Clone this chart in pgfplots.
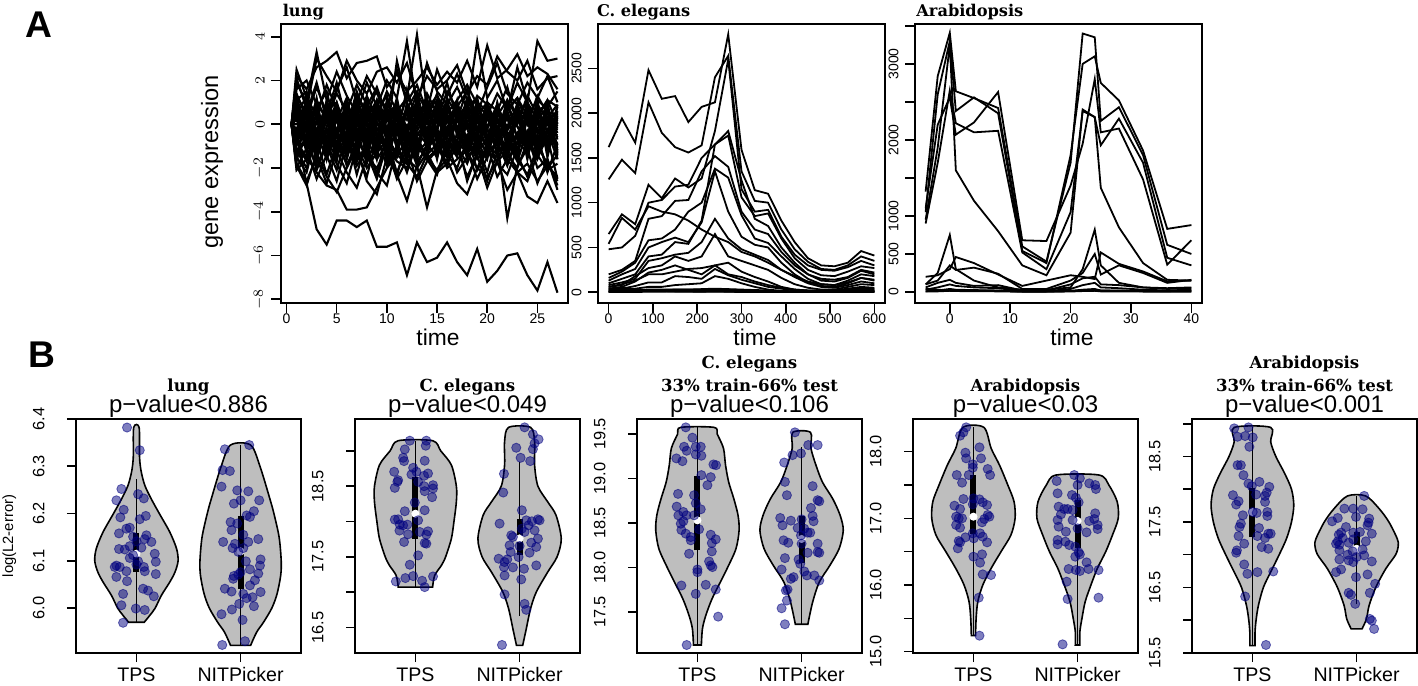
\documentclass[border=0pt]{standalone}
\usepackage{fontspec}
\setmainfont{Liberation Sans}
\newfontfamily\tfont{DejaVu Serif}
\usepackage{pgfplots}
\usepackage{pgfplotstable}
\pgfplotsset{compat=1.18}
\definecolor{vgray}{HTML}{BEBEBE}
\definecolor{navy}{HTML}{000080}

\pgfplotsset{
  rbase/.style={scale only axis, anchor=south west, axis line style={line width=0.9pt},
    tick align=outside, xtick pos=left, ytick pos=left, tick style={black, line width=0.8pt}},
  Aax/.style={rbase, width=143.5pt, height=139.5pt, major tick length=5pt,
    xticklabel style={font=\fontsize{7}{8}\selectfont, inner ysep=0pt},
    yticklabel style={font=\fontsize{7}{8}\selectfont, rotate=90, anchor=south, inner ysep=3pt}},
  Bax/.style={rbase, width=112.5pt, height=117pt, major tick length=4.5pt,
    xmin=0.42, xmax=2.58, xtick={1,2}, xticklabels={TPS,NITPicker},
    xticklabel style={font=\fontsize{9.8}{11}\selectfont, inner ysep=0pt, yshift=-2.5pt},
    yticklabel style={font=\fontsize{8.2}{9}\selectfont, rotate=90, anchor=south, inner ysep=11pt}},
  aline/.style={black, line width=0.9pt, mark=none},
  vio/.style={fill=vgray, draw=black, line width=0.8pt, mark=none, smooth, tension=0.5},
  whisk/.style={black, line width=0.8pt, mark=none},
  iqr/.style={black, line width=3pt, mark=none},
  med/.style={only marks, mark=*, mark size=1.8pt, mark options={draw=white, fill=white}},
  pts/.style={only marks, mark=*, mark size=2.3pt,
    mark options={draw=navy, fill=navy, fill opacity=0.5, draw opacity=0.55, line width=0.4pt}},
}

% ---------- panel A: expression profiles ----------
% lung: time, genes of the band, the two low ones (o1 o2), more genes of the band
\pgfplotstableread{
t g1 g2 g3 g4 g5 g6 g7 g8 g9 g10 g11 g12 g13 g14 g15 g16 g17 g18 g19 g20 g21 g22 g23 g24 o1 o2 h1 h2 h3 h4 h5 h6 h7 h8 h9 h10 h11 h12 h13 h14 h15 h16
0.5 0 0 0 0 0 0 0 0 0 0 0 0 0 0 0 0 0 0 0 0 0 0 0 0 0 0 0 0 0 0 0 0 0 0 0 0 0 0 0 0 0 0
1 2.5 -2.1 0.8 -1.2 1.9 -1.8 0.4 -0.9 1.3 -1.5 2.2 -2.0 1.0 -0.5 1.6 -1.3 0.6 -1.9 1.1 -0.8 2.1 -1.6 -0.3 1.4 -0.5 -0.8 1.1 -0.9 0.5 -1.4 0.2 -0.3 0.9 -1.1 -0.6 0.7 -1.7 0.3 -0.2 1.2 -0.8 0.0
2 1.2 -1.6 -0.4 -2.0 1.0 -2.6 1.3 0.2 0.5 -2.2 1.6 -1.1 -0.2 0.9 2.0 -0.6 -1.0 -2.8 1.5 -1.7 0.7 -0.5 1.1 0.3 -2.7 -1.5 -0.4 0.6 -1.3 0.1 -0.9 0.8 -0.2 -1.6 0.4 -0.7 0.9 -1.2 0.5 -0.1 -1.0 0.3
3 0.4 -0.7 1.1 -0.3 3.3 -1.5 -0.9 -1.6 1.9 -0.4 2.6 -2.5 0.7 -1.2 0.9 -2.0 0.5 -1.3 -0.4 0.2 3.0 -2.1 -0.6 1.7 -4.8 -2.2 0.7 -1.5 0.2 -0.8 1.0 -1.1 0.4 -0.3 -1.4 1.2 -0.6 0.1 -1.8 0.6 -0.2 -0.9
4 1.8 -2.3 0.2 -1.0 1.1 -2.7 0.6 -0.2 0.2 -1.6 2.9 -1.4 1.5 0.4 0.3 -0.8 -1.3 -2.4 1.0 -1.1 2.2 -0.9 0.8 0.5 -5.5 -2.8 -0.9 0.3 -0.6 1.1 -1.5 0.2 -1.0 0.8 -0.1 -1.3 0.5 -0.7 0.9 -1.6 0.4 -0.4
5 0.7 -0.9 -0.6 -2.1 2.4 -1.2 1.0 -1.0 1.4 -0.3 3.3 -2.6 -0.4 -0.6 1.6 -1.5 0.9 -3.1 0.2 0.6 1.5 -1.8 -1.2 1.9 -4.4 -3.0 0.2 -1.2 0.9 -0.4 0.5 -1.7 0.7 -0.9 1.0 -0.2 -1.1 0.6 -0.5 0.3 -1.4 0.8
6 -0.2 -1.8 0.9 -0.5 1.3 -2.2 -0.3 0.5 0.6 -1.9 2.1 -0.8 0.9 -1.4 2.6 -0.4 -0.9 -2.0 1.2 -1.5 2.9 -2.7 0.3 0.1 -4.4 -3.9 -1.3 0.8 -0.2 -1.0 0.4 0.9 -1.5 0.1 -0.7 0.6 -0.3 -1.6 1.1 -0.8 0.2 -1.2
7 1.5 -1.2 0.1 -1.7 0.5 -2.9 1.2 -0.7 1.8 -0.8 2.8 -1.9 -0.1 0.3 1.0 -2.3 0.4 -1.1 -0.6 -0.2 2.0 -1.0 -0.8 1.3 -4.7 -3.9 0.5 -0.5 -1.4 0.7 -0.9 -0.2 1.0 -1.3 0.3 -1.0 0.8 0.0 -0.6 1.2 -1.7 0.4
8 0.3 -2.4 -0.8 -0.9 1.9 -1.5 0.7 -1.5 0.9 -1.3 2.9 -1.2 1.3 -0.9 2.2 -0.7 -0.5 -2.6 0.8 -1.8 1.4 -2.0 0.6 0.4 -4.4 -3.8 -0.6 1.0 0.3 -1.6 0.8 -1.1 -0.4 0.6 -1.2 0.2 -0.8 1.1 -1.5 -0.1 0.7 -0.3
9 1.1 -0.6 0.6 -2.3 0.8 -2.0 -0.6 0.1 0.3 -2.5 3.1 -2.2 0.2 -0.3 1.4 -1.6 1.0 -3.2 1.7 -0.5 2.4 -1.3 -1.0 1.6 -5.6 -2.9 1.0 -1.4 -0.5 0.4 -1.2 0.7 0.2 -0.9 0.9 -1.6 0.1 -0.4 0.6 -1.1 -0.2 1.1
10 -0.5 -1.9 1.3 -0.4 2.0 -1.1 0.9 -1.1 1.5 -0.9 1.7 -2.8 0.8 0.6 0.7 -0.9 -0.8 -1.5 0.4 -1.2 2.6 -0.7 0.2 -0.3 -5.6 -2.0 -0.2 0.4 -1.0 -0.7 1.1 -1.5 0.6 0.3 -1.8 0.8 -0.5 -1.2 0.2 0.9 -0.9 -0.6
11 2.9 -1.0 -0.3 -1.5 1.2 -2.5 0.3 -0.4 0.6 -1.7 2.3 -1.0 -0.5 -1.1 2.5 -2.4 0.7 -2.3 -0.2 0.3 1.9 -2.2 1.0 0.9 -5.4 -1.4 0.8 -1.0 0.7 -1.3 -0.1 0.5 -1.1 1.0 0.0 -0.8 1.2 -1.5 -0.3 0.4 -1.4 0.6
12 0.9 -2.2 0.7 -0.6 3.8 -1.6 -1.0 0.7 1.2 -2.0 1.5 -1.8 1.6 -0.2 1.0 -0.5 -0.2 -3.5 1.3 -1.6 2.8 -1.1 -0.4 0.2 -6.9 -1.8 -1.1 0.6 -0.3 0.9 -1.6 -0.4 0.8 -1.4 0.5 -0.2 -1.0 0.7 -1.7 -0.6 1.0 -0.1
13 -0.2 -0.8 1.5 -1.9 0.8 -2.0 0.6 -1.3 4.1 -0.6 2.0 -2.4 0.1 0.8 1.8 -1.7 1.1 -1.9 0.5 -0.4 1.2 -2.6 0.4 1.4 -5.4 -1.0 0.3 -1.7 1.0 -0.5 0.6 -1.2 -0.6 0.2 -1.1 1.1 -0.3 -0.9 0.8 -1.3 0.1 -1.5
14 1.4 -1.5 -0.5 -0.9 2.8 -1.3 0.2 -0.8 0.7 -1.6 2.6 -1.4 0.9 -1.0 0.6 -1.1 -0.6 -3.8 1.0 -0.9 2.2 -1.7 -0.2 0.6 -6.3 -1.6 -0.8 0.9 -1.2 0.2 -0.4 1.0 -1.5 -0.7 0.7 -1.1 0.4 0.1 -0.9 1.2 -0.6 0.5
15 0.5 -2.1 1.0 -0.4 1.5 -2.2 1.4 -0.2 1.3 -2.3 1.8 -0.9 -0.3 0.2 2.5 -0.6 0.3 -2.1 0.2 -1.5 1.6 -1.2 0.7 1.1 -6.1 -1.1 0.6 -0.3 0.4 -1.5 1.0 -0.9 0.3 -1.0 -0.4 0.5 -1.6 0.9 -0.1 -0.7 1.1 -1.3
16 1.9 -1.2 0.4 -1.4 0.9 -1.8 -0.4 -1.2 0.5 -0.8 2.4 -2.0 1.2 -0.6 1.3 -1.9 0.8 -1.6 1.5 -0.3 2.0 -0.8 -0.6 0.3 -5.4 -1.5 -0.5 -1.1 -0.8 0.8 -1.3 0.4 -0.2 1.1 -1.5 -0.3 0.7 -0.6 1.0 -1.0 -0.4 0.2
17 0.2 -0.7 -0.2 -2.0 1.7 -1.0 0.9 0.3 1.1 -1.4 1.9 -1.6 0.4 -1.3 2.3 -0.4 -0.3 -2.7 0.7 -1.0 2.7 -2.2 0.2 0.8 -6.3 -0.8 1.1 0.2 -1.5 -0.2 0.3 -1.4 1.0 -0.5 0.6 -1.2 -0.1 0.8 -1.3 0.5 -0.8 -1.0
18 1.6 -2.6 0.8 -0.7 0.7 -2.4 0.1 -0.9 1.8 -0.5 2.9 -1.2 -0.2 0.4 1.1 -1.3 1.2 -3.2 0.3 -1.8 1.4 -1.5 -0.8 1.5 -6.9 -1.3 -1.0 -0.6 0.6 -1.1 0.9 0.1 -1.3 0.7 -0.9 0.4 -1.5 -0.2 0.5 -1.6 1.0 0.0
19 -0.4 -1.3 1.2 -1.6 3.8 -1.4 0.5 -0.5 0.9 -2.1 1.7 -2.5 1.0 -0.8 0.5 -0.9 0.2 -2.0 1.3 -0.6 2.2 -1.0 0.5 0.4 -5.7 -2.0 0.4 -1.5 -0.1 0.5 -1.0 -0.8 0.8 -1.2 1.1 -0.6 0.2 -1.4 -0.4 0.9 -0.3 -1.1
20 1.0 -0.6 -0.6 -1.1 1.2 -2.9 -0.2 -1.4 0.4 -1.2 3.6 -1.5 0.6 -0.2 1.7 -2.2 -0.7 -2.4 0.9 -1.3 1.8 -2.6 -0.1 1.0 -7.2 -1.0 -0.7 0.8 -1.1 -0.9 0.6 -1.6 -0.3 0.4 -0.8 1.0 -1.2 0.3 -1.0 -0.2 0.7 -1.5
21 0.6 -1.8 0.5 -0.3 2.0 -1.7 0.8 -0.1 1.4 -1.7 2.1 -0.8 -0.5 0.7 2.8 -0.5 0.6 -1.7 -0.3 -0.8 3.1 -1.3 0.9 -0.2 -6.7 -2.4 0.9 -0.8 0.2 -1.4 -0.5 0.7 -1.0 -0.2 0.3 -1.5 0.9 -0.7 0.4 -1.2 -0.6 1.0
22 1.7 -2.3 -0.1 -1.8 0.6 -1.2 -0.7 -0.8 0.7 -0.6 2.5 -4.3 1.1 -1.1 1.4 -1.4 -0.2 -3.0 0.6 -1.9 2.4 -0.9 -0.5 0.7 -6.0 -1.6 -0.3 0.5 -1.6 0.6 -1.2 -0.5 0.9 -1.4 -0.6 0.8 -0.4 -1.0 1.1 -0.9 0.3 -0.7
23 0.0 -1.1 0.9 -0.8 2.6 -2.2 0.4 -1.7 1.9 -1.4 3.2 -1.9 0.3 -0.4 0.9 -2.0 0.4 -2.2 1.2 -0.4 2.0 -1.6 0.1 1.2 -5.9 -2.2 0.7 -1.2 0.4 -0.6 0.8 -1.3 -0.1 1.0 -1.6 -0.1 -0.9 0.6 -0.7 0.2 -1.3 0.5
24 1.3 -0.5 -0.7 -1.3 1.0 -2.6 1.0 -0.3 1.0 -2.4 2.2 -1.1 -0.6 0.2 1.9 -0.8 -0.9 -3.3 0.4 -1.2 2.9 -2.3 0.6 0.0 -6.9 -1.8 -1.2 0.3 -0.7 1.0 -1.5 0.2 -0.8 -0.6 0.9 -1.0 0.5 -1.6 0.3 -0.5 0.8 -0.9
25 0.4 -2.0 0.3 -0.5 3.8 -1.4 -0.4 -1.1 0.2 -1.0 2.6 -2.7 0.9 -1.5 1.2 -1.6 0.9 -3.6 1.1 -0.7 1.6 -1.2 -0.7 1.3 -7.6 -2.6 0.2 -0.9 0.8 -1.2 0.1 -1.0 1.1 -1.5 -0.3 0.6 -1.3 0.4 -1.1 1.0 -0.4 -0.2
26 1.1 -1.6 1.1 -2.2 2.9 -2.1 0.6 0.2 0.8 -1.8 2.3 -1.6 0.2 -0.6 2.2 -0.3 -0.4 -2.6 0.7 -2.0 2.1 -0.6 0.3 0.5 -6.3 -1.9 -0.6 1.0 -1.0 -0.3 -0.9 0.6 -1.4 0.2 -1.1 0.9 -0.2 -1.2 0.7 -1.5 0.0 0.6
27 0.8 -2.8 0.0 -0.9 3.0 -1.8 -0.2 -0.6 1.5 -2.6 1.6 -3.0 0.6 -0.2 1.0 -1.2 0.2 -3.6 -0.1 -1.4 2.2 -2.5 0.9 -0.4 -7.7 -2.4 0.5 -1.3 0.1 -1.6 0.6 -0.7 0.3 -1.1 0.8 -1.4 -0.5 0.9 -1.6 0.4 -0.9 -1.2
}\lung

\pgfplotstableread{
t c1 c2 c3 c4 c5 c6 c7 c8 c9 c10 c11 c12 c13 c14 c15 c16 c17 c18 c19 c20
0 1620 1260 650 540 480 200 160 130 100 80 60 40 60 30 20 10 5 2 40 12
30 1940 1480 870 830 500 250 230 200 150 110 80 60 90 40 30 15 8 3 50 20
60 1670 1330 760 700 630 350 330 260 200 150 180 120 130 70 40 20 10 4 30 25
90 2480 2120 1200 960 1000 820 580 500 400 350 270 220 200 110 60 25 12 5 20 30
120 2160 1780 1050 900 1030 850 600 560 420 380 300 250 200 110 60 25 12 5 15 30
150 2190 1620 1270 870 1180 1020 700 610 560 420 400 300 230 180 80 30 15 6 10 30
180 1900 1560 1170 800 1200 1030 900 560 540 440 350 250 260 170 90 30 15 6 8 30
210 2070 1640 1270 700 1500 1350 1000 780 800 560 400 200 270 150 100 35 18 7 6 30
240 2120 2400 1800 620 1650 1520 1380 1350 1650 820 650 300 300 260 180 40 20 8 5 30
270 2880 2640 2600 560 1750 1400 1280 900 1800 600 400 200 330 190 150 35 18 7 5 30
300 1590 1350 1150 450 1060 900 860 620 1250 480 350 170 230 140 100 30 15 6 4 25
330 1140 1020 900 400 850 700 600 530 820 420 300 120 170 100 60 25 12 5 4 20
360 1100 1000 920 330 880 650 550 500 740 360 250 80 120 60 30 20 10 4 3 15
390 800 700 620 250 600 450 400 330 500 250 160 50 60 40 15 15 8 3 3 10
420 560 480 420 180 380 300 260 200 330 170 90 30 30 20 10 10 5 2 2 8
450 380 340 300 120 250 200 150 110 200 100 50 20 20 15 10 8 4 2 2 6
480 300 260 250 90 190 150 90 70 130 60 30 20 20 10 10 8 4 2 2 6
510 290 250 240 80 180 140 80 60 120 50 30 20 20 10 10 8 4 2 2 8
540 330 300 280 110 230 170 130 100 160 80 60 40 30 20 20 12 6 3 3 10
570 460 400 350 160 290 250 200 160 240 120 90 60 50 40 30 20 10 5 4 15
600 410 350 300 140 270 220 180 130 200 100 80 50 40 30 20 15 8 4 3 12
}\celeg

\pgfplotstableread{
t a1 a2 a3 a4 a5 a6 a7 a8 a9 a10 a11 a12 a13
-4 1320 1050 900 1100 950 100 200 100 60 30 10 5 40
-2 2840 2600 1700 2200 1900 250 220 150 120 60 20 8 30
0 3410 3300 2650 2560 3250 750 300 350 160 100 40 15 20
1 2640 2380 2220 2070 1600 300 460 290 120 80 30 12 20
4 2550 2560 2100 2230 1200 150 380 320 80 60 25 10 20
8 2420 2350 2120 2630 800 60 230 240 90 50 20 8 15
12 600 540 520 680 350 30 80 40 20 10 5 2 10
16 400 380 300 670 220 30 150 40 20 10 5 2 10
20 1700 1800 1050 1400 780 60 220 150 100 40 15 6 15
22 3400 3000 2380 1950 2400 300 200 250 180 90 30 12 20
24 3350 3100 2300 2800 2300 820 170 500 200 120 40 15 25
25 2250 2750 1930 2100 1370 350 520 230 100 60 20 8 20
28 2430 2520 2280 2150 850 120 370 350 90 50 20 8 15
32 1800 1860 1700 1480 380 60 270 250 60 30 10 5 15
36 620 830 450 360 160 50 140 120 40 20 10 4 10
40 500 880 350 680 150 60 150 160 50 30 10 5 20
}\arab

% ---------- panel B: violin outlines, offset w from the centre, right side up then left side down ----------
\pgfplotstableread{
w y
0.075 5.970
0.13 5.985
0.18 6.000
0.24 6.027
0.32 6.055
0.37 6.076
0.40 6.100
0.385 6.126
0.32 6.161
0.22 6.200
0.14 6.232
0.08 6.260
0.045 6.290
0.03 6.320
0.026 6.382
-0.026 6.382
-0.03 6.320
-0.045 6.290
-0.08 6.260
-0.14 6.232
-0.22 6.200
-0.32 6.161
-0.385 6.126
-0.40 6.100
-0.37 6.076
-0.32 6.055
-0.24 6.027
-0.18 6.000
-0.13 5.985
-0.075 5.970
}\vAt
\pgfplotstableread{
w y
0.096 5.921
0.154 5.949
0.22 5.970
0.30 6.000
0.35 6.030
0.385 6.069
0.39 6.100
0.37 6.150
0.32 6.200
0.28 6.232
0.186 6.300
0.096 6.345
-0.096 6.345
-0.186 6.300
-0.28 6.232
-0.32 6.200
-0.37 6.150
-0.39 6.100
-0.385 6.069
-0.35 6.030
-0.30 6.000
-0.22 5.970
-0.154 5.949
-0.096 5.921
}\vAn
\pgfplotstableread{
w y
0.165 17.071
0.185 17.236
0.25 17.380
0.29 17.500
0.345 17.757
0.37 18.000
0.393 18.278
0.393 18.500
0.345 18.800
0.243 19.000
0.165 19.144
-0.165 19.144
-0.243 19.000
-0.345 18.800
-0.393 18.500
-0.393 18.278
-0.37 18.000
-0.345 17.757
-0.29 17.500
-0.25 17.380
-0.185 17.236
-0.165 17.071
}\vBt
\pgfplotstableread{
w y
0.03 16.247
0.064 16.479
0.105 16.763
0.16 17.000
0.27 17.284
0.36 17.500
0.40 17.757
0.35 18.088
0.27 18.278
0.176 18.500
0.144 18.800
0.144 19.130
0.105 19.333
-0.105 19.333
-0.144 19.130
-0.144 18.800
-0.176 18.500
-0.27 18.278
-0.35 18.088
-0.40 17.757
-0.36 17.500
-0.27 17.284
-0.16 17.000
-0.105 16.763
-0.064 16.479
-0.03 16.247
}\vBn
\pgfplotstableread{
w y
0.038 17.128
0.048 17.310
0.08 17.459
0.14 17.647
0.22 17.835
0.29 18.000
0.37 18.210
0.40 18.417
0.39 18.586
0.35 18.770
0.30 18.960
0.27 19.150
0.25 19.340
0.19 19.500
0.16 19.575
-0.16 19.575
-0.19 19.500
-0.25 19.340
-0.27 19.150
-0.30 18.960
-0.35 18.770
-0.39 18.586
-0.40 18.417
-0.37 18.210
-0.29 18.000
-0.22 17.835
-0.14 17.647
-0.08 17.459
-0.048 17.310
-0.038 17.128
}\vCt
\pgfplotstableread{
w y
0.06 17.361
0.106 17.610
0.17 17.835
0.27 18.020
0.36 18.210
0.40 18.417
0.37 18.586
0.30 18.770
0.20 18.960
0.138 19.150
0.09 19.340
0.085 19.519
-0.085 19.519
-0.09 19.340
-0.138 19.150
-0.20 18.960
-0.30 18.770
-0.37 18.586
-0.40 18.417
-0.36 18.210
-0.27 18.020
-0.17 17.835
-0.106 17.610
-0.06 17.361
}\vCn
\pgfplotstableread{
w y
0.02 15.240
0.026 15.500
0.042 15.750
0.09 16.000
0.17 16.250
0.265 16.500
0.36 16.750
0.40 17.000
0.39 17.250
0.33 17.500
0.25 17.800
0.17 18.050
0.10 18.365
-0.10 18.365
-0.17 18.050
-0.25 17.800
-0.33 17.500
-0.39 17.250
-0.40 17.000
-0.36 16.750
-0.265 16.500
-0.17 16.250
-0.09 16.000
-0.042 15.750
-0.026 15.500
-0.02 15.240
}\vDt
\pgfplotstableread{
w y
0.022 15.100
0.022 15.300
0.042 15.500
0.073 15.750
0.128 16.000
0.19 16.250
0.27 16.500
0.335 16.750
0.39 17.000
0.38 17.250
0.30 17.500
0.205 17.650
-0.205 17.650
-0.30 17.500
-0.38 17.250
-0.39 17.000
-0.335 16.750
-0.27 16.500
-0.19 16.250
-0.128 16.000
-0.073 15.750
-0.042 15.500
-0.022 15.300
-0.022 15.100
}\vDn
\pgfplotstableread{
w y
0.025 15.610
0.025 15.815
0.035 16.000
0.057 16.223
0.105 16.500
0.175 16.734
0.257 17.000
0.327 17.245
0.375 17.500
0.397 17.755
0.375 18.000
0.31 18.240
0.225 18.500
0.175 18.725
0.175 18.945
-0.175 18.945
-0.175 18.725
-0.225 18.500
-0.31 18.240
-0.375 18.000
-0.397 17.755
-0.375 17.500
-0.327 17.245
-0.257 17.000
-0.175 16.734
-0.105 16.500
-0.057 16.223
-0.035 16.000
-0.025 15.815
-0.025 15.610
}\vEt
\pgfplotstableread{
w y
0.052 15.866
0.095 16.020
0.12 16.223
0.184 16.500
0.28 16.785
0.375 17.000
0.40 17.140
0.39 17.245
0.31 17.500
0.216 17.704
0.087 17.898
-0.087 17.898
-0.216 17.704
-0.31 17.500
-0.39 17.245
-0.40 17.140
-0.375 17.000
-0.28 16.785
-0.184 16.500
-0.12 16.223
-0.095 16.020
-0.052 15.866
}\vEn

% ---------- panel B: individual errors ----------
\pgfplotstableread{
x y
0.910 6.382
1.032 6.334
0.856 6.252
1.016 6.241
0.808 6.228
1.071 6.232
0.878 6.208
1.090 6.195
1.032 6.188
0.846 6.192
0.936 6.170
0.904 6.168
0.833 6.158
0.968 6.151
1.096 6.154
1.080 6.146
1.000 6.141
1.144 6.140
0.936 6.131
0.833 6.125
0.888 6.124
1.048 6.128
1.176 6.115
0.968 6.112
0.936 6.106
1.016 6.099
1.186 6.098
1.000 6.092
0.808 6.090
0.840 6.087
0.792 6.087
1.071 6.087
0.904 6.078
1.080 6.078
1.186 6.072
0.808 6.066
0.910 6.057
1.064 6.041
1.112 6.037
1.167 6.025
0.872 6.030
0.856 6.006
0.994 5.999
1.080 5.996
0.872 5.969
}\pAt
\pgfplotstableread{
x y
2.083 6.345
1.849 6.336
1.827 6.292
1.897 6.290
1.817 6.257
1.968 6.249
2.074 6.247
2.000 6.228
2.179 6.228
1.936 6.221
2.128 6.205
2.058 6.196
2.090 6.193
1.904 6.182
1.968 6.179
1.913 6.165
2.026 6.155
2.170 6.146
1.833 6.140
1.946 6.136
2.074 6.140
1.923 6.127
2.026 6.127
1.978 6.119
2.051 6.099
2.192 6.103
2.186 6.090
2.090 6.082
2.170 6.073
2.000 6.076
1.936 6.068
1.978 6.071
1.929 6.062
2.138 6.059
2.090 6.048
1.849 6.041
1.913 6.035
2.192 6.034
2.026 6.030
2.115 6.023
2.058 6.021
1.987 6.009
2.128 6.004
1.917 5.997
1.817 5.987
2.019 5.975
2.042 5.930
1.824 5.922
}\pAn
\pgfplotstableread{
x y
0.946 19.144
1.105 19.144
1.099 19.073
0.898 19.021
0.882 18.902
0.891 18.855
1.089 18.860
0.978 18.760
0.796 18.704
1.010 18.704
0.962 18.666
1.121 18.680
1.083 18.647
0.834 18.585
0.827 18.562
1.026 18.562
0.802 18.476
1.083 18.500
1.169 18.514
1.169 18.467
1.089 18.429
1.160 18.344
0.994 18.268
1.089 18.159
0.898 18.145
0.802 18.027
0.834 18.031
1.026 18.017
0.923 17.956
0.850 17.956
0.882 17.946
0.847 17.871
1.121 17.861
1.042 17.852
0.930 17.819
1.105 17.814
0.891 17.710
1.089 17.695
1.105 17.686
1.026 17.520
0.946 17.388
1.169 17.222
0.978 17.227
0.904 17.199
0.812 17.151
1.064 17.161
1.089 17.071
}\pBt
\pgfplotstableread{
x y
2.048 19.333
2.128 19.234
2.182 19.163
2.144 19.106
2.128 19.025
1.968 19.044
2.010 18.902
2.102 18.855
1.850 18.675
1.843 18.410
2.022 18.159
1.808 17.970
2.064 18.017
2.176 18.031
2.118 18.003
2.086 17.946
2.192 18.017
2.144 17.875
2.022 17.899
2.048 17.852
1.920 17.804
1.936 17.781
2.176 17.757
2.112 17.700
1.904 17.662
2.000 17.653
2.160 17.639
2.096 17.558
1.914 17.568
1.990 17.497
1.882 17.464
1.799 17.473
1.856 17.426
2.160 17.378
2.042 17.331
1.936 17.350
1.850 17.355
1.856 17.236
2.016 17.180
1.856 16.967
2.048 16.834
2.064 16.749
1.831 16.252
}\pBn
\pgfplotstableread{
x y
0.888 19.575
0.952 19.459
0.872 19.357
0.984 19.357
1.032 19.357
0.897 19.312
0.984 19.271
1.038 19.256
0.798 19.226
0.856 19.195
1.154 19.158
1.179 19.150
1.038 19.038
1.128 19.015
1.096 18.925
0.814 18.827
0.968 18.812
0.984 18.722
0.801 18.684
1.032 18.654
0.865 18.624
0.894 18.586
0.817 18.586
0.865 18.519
0.840 18.492
0.968 18.586
1.016 18.429
0.846 18.421
0.888 18.380
0.936 18.342
0.936 18.305
1.128 18.368
1.176 18.316
1.138 18.274
0.920 18.154
1.138 18.180
1.112 18.068
1.000 17.977
1.128 18.023
1.144 18.004
1.000 17.947
0.846 17.797
1.080 17.805
1.176 17.752
0.984 17.703
1.199 17.447
0.897 17.128
}\pCt
\pgfplotstableread{
x y
1.936 19.519
1.994 19.282
1.913 19.263
2.064 19.376
2.154 19.376
1.833 19.180
1.840 18.962
1.859 18.812
2.106 18.914
2.154 18.756
2.170 18.744
2.090 18.669
1.795 18.556
1.897 18.526
2.000 18.541
2.106 18.579
2.115 18.519
1.817 18.474
1.962 18.444
2.026 18.436
2.058 18.391
1.994 18.361
2.083 18.391
1.827 18.305
1.872 18.278
2.154 18.267
2.000 18.267
2.058 18.165
2.170 18.165
2.154 18.173
1.840 18.105
1.971 18.090
1.987 18.041
1.808 17.977
2.026 17.955
2.051 17.910
2.122 17.910
1.923 17.891
1.897 17.872
2.170 17.853
1.865 17.752
1.849 17.741
1.859 17.628
1.808 17.541
1.840 17.361
}\pCn
\pgfplotstableread{
x y
0.930 18.365
0.904 18.29
0.872 18.24
1.058 18.065
0.923 17.985
1.073 17.90
0.930 17.90
0.994 17.81
0.994 17.76
1.137 17.74
0.840 17.65
1.160 17.65
0.955 17.65
0.891 17.535
0.904 17.29
1.000 17.30
1.058 17.285
1.089 17.24
0.994 17.21
1.131 17.20
0.818 17.19
0.872 17.14
0.834 17.025
0.859 17.00
0.891 17.00
1.137 17.05
1.153 17.025
1.105 16.99
1.083 16.94
0.834 16.90
0.872 16.86
0.994 16.775
1.064 16.775
1.089 16.725
0.923 16.715
0.859 16.66
1.003 16.70
0.872 16.64
1.131 16.64
0.850 16.55
1.083 16.46
1.000 16.425
1.064 16.335
1.089 16.16
1.169 16.15
1.051 15.81
1.058 15.24
}\pDt
\pgfplotstableread{
x y
1.968 17.65
2.022 17.60
2.112 17.525
1.799 17.56
2.000 17.50
2.169 17.50
2.176 17.44
1.808 17.375
1.946 17.35
1.984 17.31
2.010 17.24
1.818 17.175
1.872 17.14
1.952 17.125
1.840 17.06
1.904 17.14
2.169 17.075
1.808 16.975
1.952 16.975
2.112 16.96
2.160 16.99
2.192 16.90
1.818 16.875
2.192 16.84
1.888 16.80
2.086 16.79
2.000 16.85
1.808 16.675
1.808 16.61
1.882 16.65
1.920 16.60
1.978 16.575
2.010 16.49
2.022 16.46
1.978 16.425
2.086 16.34
1.914 16.24
1.984 16.225
2.022 16.21
2.105 16.24
2.201 16.225
1.895 16.05
1.904 15.79
2.201 15.81
1.856 15.11
}\pDn
\pgfplotstableread{
x y
0.825 18.930
0.962 18.945
0.857 18.802
0.930 18.813
1.003 18.792
0.971 18.649
0.857 18.368
0.889 18.368
0.914 18.215
0.962 18.087
1.067 18.113
0.994 18.046
1.162 18.036
1.137 17.949
1.035 17.919
0.813 17.909
1.121 17.898
0.867 17.817
0.844 17.766
1.121 17.806
1.003 17.653
0.908 17.602
1.041 17.638
1.143 17.653
1.143 17.592
0.889 17.474
0.876 17.423
1.063 17.408
0.867 17.285
1.048 17.285
1.121 17.255
1.175 17.321
1.152 17.321
0.921 17.168
1.089 17.117
1.152 17.091
0.851 17.066
0.844 17.030
0.921 16.851
0.952 16.708
1.048 16.734
1.200 16.744
0.930 16.361
1.130 15.621
}\pEt
\pgfplotstableread{
x y
2.073 17.898
1.883 17.704
1.968 17.704
2.057 17.694
1.819 17.561
1.994 17.577
2.114 17.490
2.121 17.551
1.765 17.510
1.898 17.423
2.105 17.449
1.968 17.337
1.851 17.337
1.829 17.306
2.032 17.347
2.146 17.321
1.867 17.255
1.819 17.204
1.968 17.234
2.089 17.204
1.924 17.183
1.835 17.153
1.803 17.168
1.835 17.066
1.962 17.051
2.057 17.081
1.914 17.000
2.000 16.964
2.073 16.989
2.146 16.897
1.835 16.928
1.968 16.887
1.924 16.913
1.851 16.775
1.803 16.734
2.105 16.698
1.994 16.657
2.178 16.555
1.924 16.417
1.946 16.387
2.127 16.417
1.987 16.249
2.127 16.019
2.146 15.993
2.168 15.866
}\pEn

\begin{document}
\begin{tikzpicture}
\useasboundingbox (0pt,0pt) rectangle (709pt,-342.5pt);

% ===== A: lung =====
\begin{axis}[Aax, at={(140.5pt,-151.5pt)},
  xmin=-0.55, xmax=28.05, ymin=-8.17, ymax=4.58,
  xtick={0,5,...,25}, xticklabels={0,5,10,15,20,25},
  ytick={-8,-6,...,4}, yticklabel={}]
\pgfplotsinvokeforeach{1,...,42}{\addplot[aline, line width=1.05pt] table[x index=0, y index=#1]{\lung};}
% tick labels of this panel sit further out than in the other two
\pgfplotsinvokeforeach{-8,-6,-4,-2,0,2,4}{
  \node[rotate=90, anchor=south, inner sep=0pt, font=\fontsize{7}{8}\selectfont]
    at ([xshift=-11.5pt]axis cs:-0.55,#1) {#1};}
\end{axis}

% ===== A: C. elegans =====
\begin{axis}[Aax, at={(299pt,-151.5pt)},
  xmin=-24, xmax=624, ymin=-120, ymax=2995,
  xtick={0,100,...,600}, xticklabels={0,100,200,300,400,500,600},
  ytick={0,500,...,2500}, yticklabels={0,500,1000,1500,2000,2500}]
\pgfplotsinvokeforeach{1,...,20}{\addplot[aline] table[x index=0, y index=#1]{\celeg};}
\end{axis}

% ===== A: Arabidopsis =====
\begin{axis}[Aax, at={(457.5pt,-151.5pt)},
  xmin=-5.76, xmax=41.76, ymin=-145, ymax=3525,
  xtick={0,10,...,40}, xticklabels={0,10,20,30,40},
  ytick={0,500,...,3500}, yticklabels={0,500,1000,,2000,,3000,}]
\pgfplotsinvokeforeach{1,...,13}{\addplot[aline] table[x index=0, y index=#1]{\arab};}
\end{axis}

% ===== B1: lung =====
\begin{axis}[Bax, at={(38pt,-326.5pt)}, ymin=5.905, ymax=6.40,
  ytick={6.0,6.1,6.2,6.3,6.4}, yticklabels={6.0,6.1,6.2,6.3,6.4}]
\addplot[vio] table[x expr=1+\thisrow{w}, y=y]{\vAt} -- cycle;
\addplot[vio] table[x expr=2+\thisrow{w}, y=y]{\vAn} -- cycle;
\addplot[whisk] coordinates {(1,5.970) (1,6.274)};
\addplot[whisk] coordinates {(2,5.921) (2,6.345)};
\addplot[iqr] coordinates {(1,6.076) (1,6.158)};
\addplot[iqr] coordinates {(2,6.041) (2,6.195)};
\addplot[med] coordinates {(1,6.115) (2,6.120)};
\addplot[pts] table{\pAt};
\addplot[pts] table{\pAn};
\end{axis}

% ===== B2: C. elegans =====
\begin{axis}[Bax, at={(177.5pt,-326.5pt)}, ymin=16.138, ymax=19.451,
  ytick={16.5,17,17.5,18,18.5,19}, yticklabels={16.5,,17.5,,18.5,}]
\addplot[vio] table[x expr=1+\thisrow{w}, y=y]{\vBt} -- cycle;
\addplot[vio] table[x expr=2+\thisrow{w}, y=y]{\vBn} -- cycle;
\addplot[whisk] coordinates {(1,17.071) (1,19.144)};
\addplot[whisk] coordinates {(2,16.659) (2,18.845)};
\addplot[iqr] coordinates {(1,17.757) (1,18.632)};
\addplot[iqr] coordinates {(2,17.52) (2,18.031)};
\addplot[med] coordinates {(1,18.11) (2,17.76)};
\addplot[pts] table{\pBt};
\addplot[pts] table{\pBn};
\end{axis}

% ===== B3: C. elegans 33/66 =====
\begin{axis}[Bax, at={(318.5pt,-326.5pt)}, ymin=17.038, ymax=19.669,
  ytick={17.5,18,18.5,19,19.5}, yticklabels={17.5,18.0,18.5,19.0,19.5}]
\addplot[vio] table[x expr=1+\thisrow{w}, y=y]{\vCt} -- cycle;
\addplot[vio] table[x expr=2+\thisrow{w}, y=y]{\vCn} -- cycle;
\addplot[whisk] coordinates {(1,17.128) (1,19.575)};
\addplot[whisk] coordinates {(2,17.361) (2,19.35)};
\addplot[iqr] coordinates {(1,18.192) (1,19.026)};
\addplot[iqr] coordinates {(2,18.049) (2,18.579)};
\addplot[med] coordinates {(1,18.53) (2,18.32)};
\addplot[pts] table{\pCt};
\addplot[pts] table{\pCn};
\end{axis}

% ===== B4: Arabidopsis =====
\begin{axis}[Bax, at={(456.5pt,-326.5pt)}, ymin=14.98, ymax=18.49,
  ytick={15,15.5,16,16.5,17,17.5,18}, yticklabels={15.0,,16.0,,17.0,,18.0}]
\addplot[vio] table[x expr=1+\thisrow{w}, y=y]{\vDt} -- cycle;
\addplot[vio] table[x expr=2+\thisrow{w}, y=y]{\vDn} -- cycle;
\addplot[whisk] coordinates {(1,15.24) (1,18.365)};
\addplot[whisk] coordinates {(2,15.1) (2,17.65)};
\addplot[iqr] coordinates {(1,16.765) (1,17.65)};
\addplot[iqr] coordinates {(2,16.55) (2,17.275)};
\addplot[med] coordinates {(1,17.025) (2,16.96)};
\addplot[pts] table{\pDt};
\addplot[pts] table{\pDn};
\end{axis}

% ===== B5: Arabidopsis 33/66 =====
\begin{axis}[Bax, at={(596pt,-326.5pt)}, ymin=15.498, ymax=19.073,
  ytick={15.5,16,16.5,17,17.5,18,18.5,19}, yticklabels={15.5,,16.5,,17.5,,18.5,}]
\addplot[vio] table[x expr=1+\thisrow{w}, y=y]{\vEt} -- cycle;
\addplot[vio] table[x expr=2+\thisrow{w}, y=y]{\vEn} -- cycle;
\addplot[whisk] coordinates {(1,15.61) (1,18.945)};
\addplot[whisk] coordinates {(2,16.249) (2,17.898)};
\addplot[iqr] coordinates {(1,17.27) (1,18.02)};
\addplot[iqr] coordinates {(2,17.05) (2,17.347)};
\addplot[med] coordinates {(1,17.65) (2,17.09)};
\addplot[pts] table{\pEt};
\addplot[pts] table{\pEn};
\end{axis}

% ===== labels =====
\begin{scope}[every node/.style={inner sep=0pt}]
\node[anchor=base west, font=\fontsize{18.6}{20}\selectfont\bfseries] at (12.5pt,-18.5pt) {A};
\node[anchor=base west, font=\fontsize{18.6}{20}\selectfont\bfseries] at (13.9pt,-183.5pt) {B};
\node[anchor=base west, font=\tfont\bfseries\fontsize{8.1}{9}\selectfont] at (141.2pt,-8.3pt) {lung};
\node[anchor=base west, font=\tfont\bfseries\fontsize{8.1}{9}\selectfont] at (298.3pt,-8.3pt) {C. elegans};
\node[anchor=base west, font=\tfont\bfseries\fontsize{8.1}{9}\selectfont] at (458pt,-8.3pt) {Arabidopsis};
\node[anchor=base, rotate=90, font=\fontsize{11.8}{13}\selectfont] at (109pt,-81pt) {gene expression};
\node[anchor=base, font=\fontsize{11.4}{13}\selectfont] at (219pt,-172.5pt) {time};
\node[anchor=base, font=\fontsize{11.4}{13}\selectfont] at (377.5pt,-172.5pt) {time};
\node[anchor=base, font=\fontsize{11.4}{13}\selectfont] at (536pt,-172.5pt) {time};
\node[anchor=base, rotate=90, font=\fontsize{7.4}{8}\selectfont] at (6.5pt,-268pt) {log(L2-error)};
% violin titles
\node[anchor=base, font=\tfont\bfseries\fontsize{8.3}{9}\selectfont] at (94.25pt,-195.75pt) {lung};
\node[anchor=base, font=\fontsize{12}{13}\selectfont] at (94.25pt,-206pt) {p−value<0.886};
\node[anchor=base, font=\tfont\bfseries\fontsize{8.3}{9}\selectfont] at (233.75pt,-195.75pt) {C. elegans};
\node[anchor=base, font=\fontsize{12}{13}\selectfont] at (233.75pt,-206pt) {p−value<0.049};
\node[anchor=base, font=\tfont\bfseries\fontsize{8.3}{9}\selectfont] at (374.75pt,-184.25pt) {C. elegans};
\node[anchor=base, font=\tfont\bfseries\fontsize{8.3}{9}\selectfont] at (374.75pt,-195.75pt) {33\% train-66\% test};
\node[anchor=base, font=\fontsize{12}{13}\selectfont] at (374.75pt,-206pt) {p−value<0.106};
\node[anchor=base, font=\tfont\bfseries\fontsize{8.3}{9}\selectfont] at (512.75pt,-195.75pt) {Arabidopsis};
\node[anchor=base, font=\fontsize{12}{13}\selectfont] at (512.75pt,-206pt) {p−value<0.03};
\node[anchor=base, font=\tfont\bfseries\fontsize{8.3}{9}\selectfont] at (652.25pt,-184.25pt) {Arabidopsis};
\node[anchor=base, font=\tfont\bfseries\fontsize{8.3}{9}\selectfont] at (652.25pt,-195.75pt) {33\% train-66\% test};
\node[anchor=base, font=\fontsize{12}{13}\selectfont] at (652.25pt,-206pt) {p−value<0.001};
\end{scope}
\end{tikzpicture}
\end{document}
